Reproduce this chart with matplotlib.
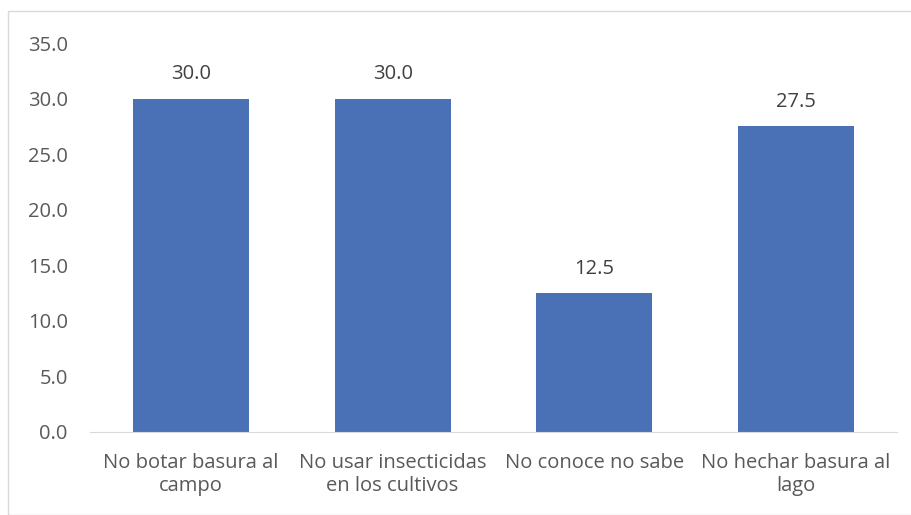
import matplotlib.pyplot as plt
from matplotlib.patches import Rectangle

categories = ["No botar basura al\ncampo", "No usar insecticidas\nen los cultivos",
              "No conoce no sabe", "No hechar basura al\nlago"]
values = [30.0, 30.0, 12.5, 27.5]
yticks = [0, 5, 10, 15, 20, 25, 30, 35]

plt.rcParams['font.family'] = ['Open Sans', 'DejaVu Sans']
text_color = "#595959"

fig = plt.figure(figsize=(9.11, 5.15), dpi=100)
ax = fig.add_axes([0.0988, 0.1612, 0.8858, 0.7553])

x = range(len(categories))
bars = ax.bar(x, values, width=0.575, color="#4A70B5")

for b, v in zip(bars, values):
    ax.text(b.get_x() + b.get_width() / 2, v + 1.3, f"{v:.1f}",
            ha="center", va="bottom", fontsize=14.5, color="#404040")

ax.set_xlim(-0.5, len(categories) - 0.5)
ax.set_ylim(0, 35)
ax.set_yticks(yticks)
ax.set_yticklabels([f"{t:.1f}" for t in yticks])
ax.set_xticks(list(x))
ax.set_xticklabels(categories, linespacing=1.2)
ax.tick_params(axis="both", length=0, labelsize=14.5, labelcolor=text_color)
ax.tick_params(axis="y", pad=16)
ax.tick_params(axis="x", pad=15)

for s in ["top", "right", "left"]:
    ax.spines[s].set_visible(False)
ax.spines["bottom"].set_color("#D9D9D9")

fig.patches.append(Rectangle((8 / 911, 0), 1, 1 - 11 / 515, transform=fig.transFigure,
                             fill=False, edgecolor="#D9D9D9", linewidth=1))

fig.savefig("out.png", dpi=100)
